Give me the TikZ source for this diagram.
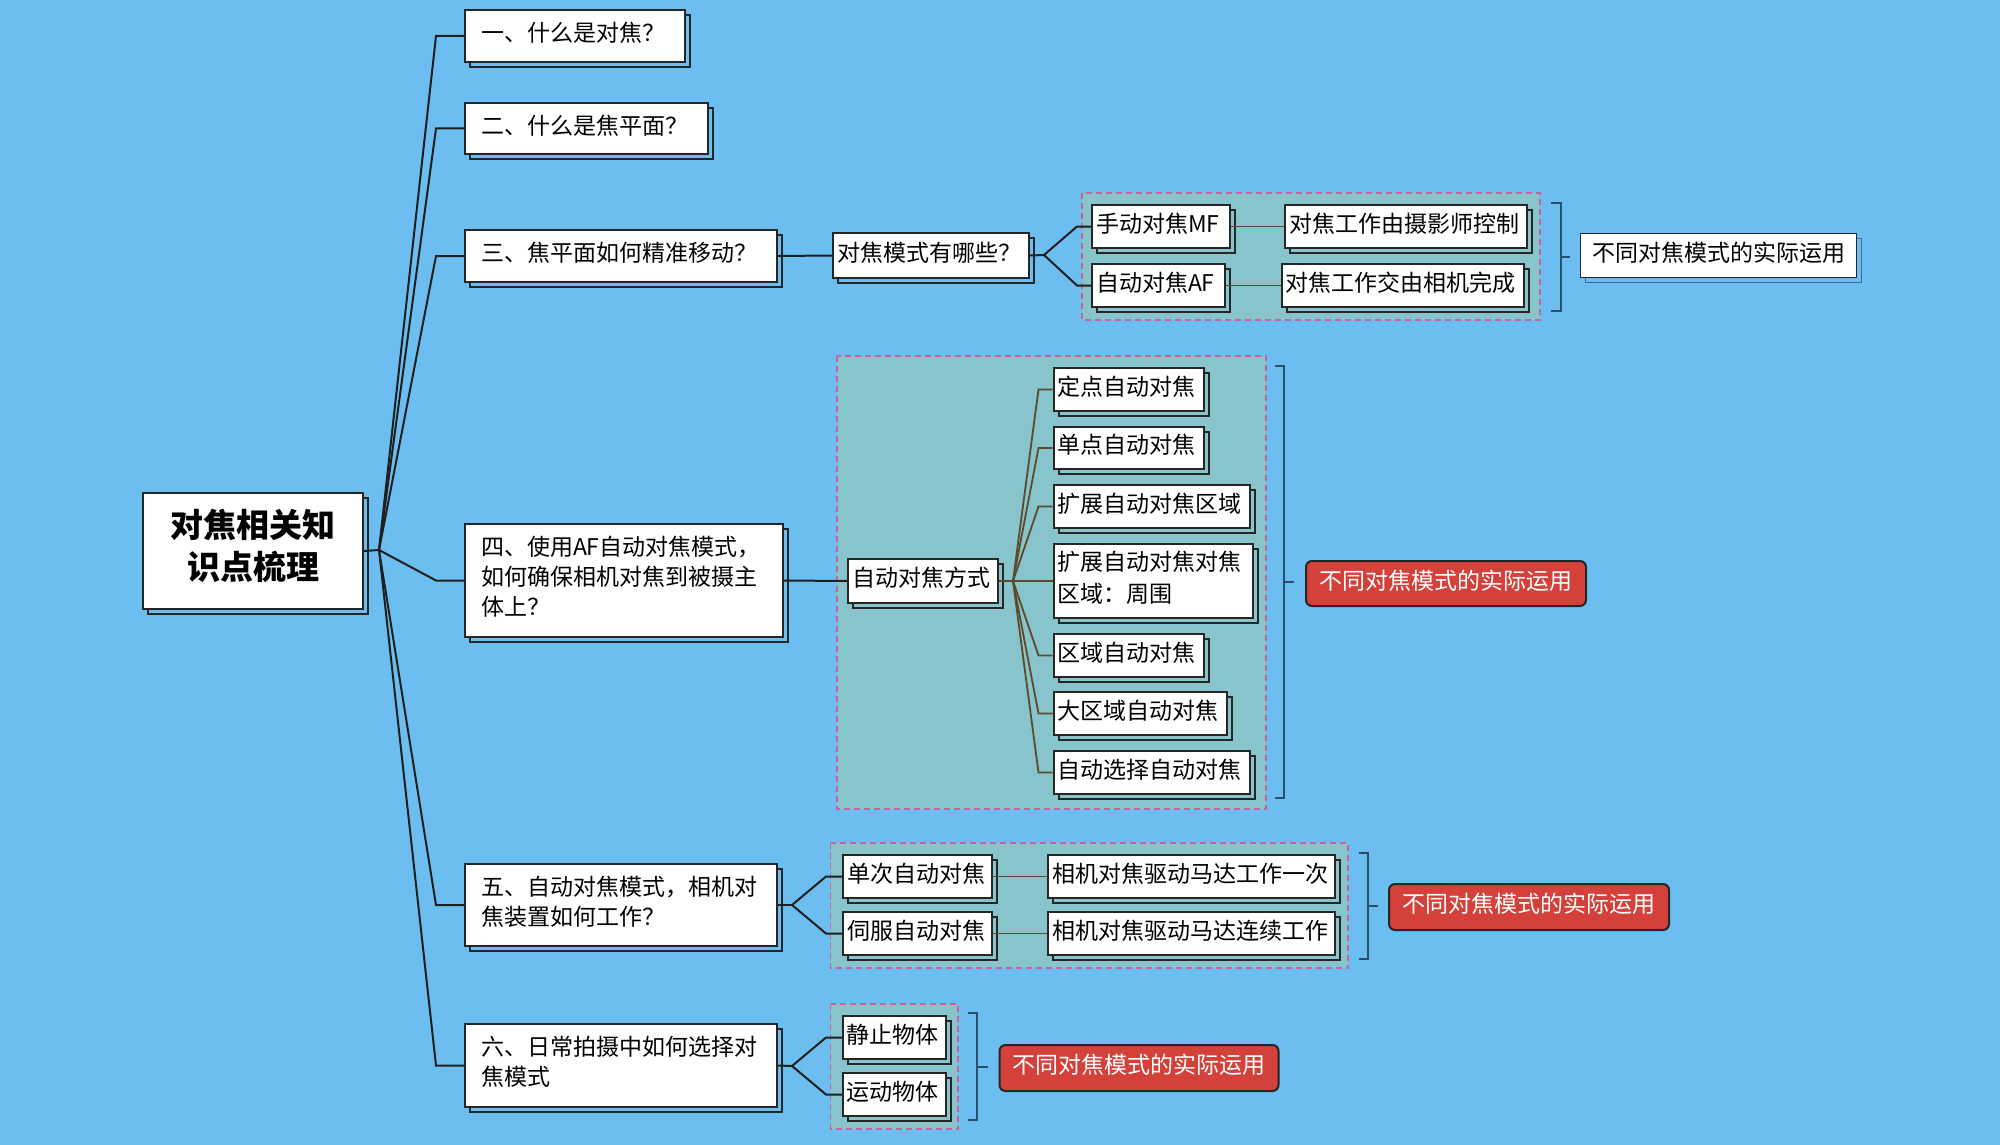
\documentclass[tikz,border=0pt]{standalone}
\usepackage{fontspec}
\setmainfont{Noto Sans CJK SC}
\usetikzlibrary{calc}
\definecolor{bgc}{HTML}{6DBEF0}
\definecolor{grpfill}{HTML}{88C4CC}
\definecolor{grpdash}{HTML}{C9649A}
\definecolor{boxc}{HTML}{262626}
\definecolor{connc}{HTML}{1F1F1F}
\definecolor{olivec}{HTML}{5B4B2B}
\definecolor{brkc}{HTML}{2C4D6C}
\definecolor{redc}{HTML}{D4403A}
\definecolor{lshc}{HTML}{3C6C9C}
\newcommand\mmbox[8][]{%
  \pgfmathsetmacro\mmtw{#5-2*#7+4}%
  \pgfmathsetmacro\mmix{#7-2}%
  \node[#1, minimum width=#5pt, minimum height=#6pt, inner xsep=\mmix pt, text width=\mmtw pt] (#2) at (#3,#4) {#8};}
\newcommand\lastdp{\rule[-9pt]{0pt}{9pt}}
\begin{document}
\begin{tikzpicture}[x=1pt,y=-1pt,
  bxm/.style={draw=boxc, line width=2pt, fill=white, anchor=north west, align=left,
    inner ysep=0pt, font=\fontsize{23}{30}\selectfont,
    preaction={draw=boxc, line width=2pt, transform canvas={xshift=5pt,yshift=-5pt}}},
  bx/.style={bxm, text depth=8pt},
  lbx/.style={draw=boxc, line width=1pt, fill=white, anchor=north west, align=center,
    inner ysep=0pt, text depth=8pt, font=\fontsize{23}{30}\selectfont,
    preaction={draw=lshc, line width=1.5pt, transform canvas={xshift=5pt,yshift=-5pt}}},
  rbx/.style={draw=boxc, line width=2pt, fill=redc, rounded corners=6pt, anchor=north west,
    align=center, text=white, inner ysep=0pt, text depth=8pt, font=\fontsize{23}{30}\selectfont},
  grp/.style={draw=grpdash, fill=grpfill, line width=1.5pt, dash pattern=on 6pt off 4pt},
  conn/.style={draw=connc, line width=2pt},
  oconn/.style={draw=olivec, line width=1.8pt},
  brk/.style={draw=brkc, line width=1.8pt}]
\fill[bgc] (0,0) rectangle (2000,1145);
\useasboundingbox (0,0) rectangle (2000,1145);
% groups
\draw[grp] (1082,193) rectangle (1540,320);
\draw[grp] (837,356) rectangle (1266,809);
\draw[grp] (830.5,843) rectangle (1348,968);
\draw[grp] (830.5,1004) rectangle (958,1129);
% root
\node[bxm, align=center, minimum width=220pt, minimum height=116pt, text width=200pt,
  inner xsep=10pt, font=\fontsize{33}{42}\selectfont\bfseries] (root) at (142,492) {对焦相关知\\识点梳理\rule[-14pt]{0pt}{14pt}};
% level 1
\mmbox[bx]{n1}{464}{9}{220}{52}{18}{一、什么是对焦？}
\mmbox[bx]{n2}{464}{102}{243}{51}{18}{二、什么是焦平面？}
\mmbox[bx]{n3}{464}{229}{312}{52}{18}{三、焦平面如何精准移动？}
\mmbox[bxm]{n4}{464}{523}{318}{113}{18}{四、使用AF自动对焦模式，\\如何确保相机对焦到被摄主\\体上？\lastdp}
\mmbox[bxm]{n5}{464}{863}{312}{82}{18}{五、自动对焦模式，相机对\\焦装置如何工作？\lastdp}
\mmbox[bxm]{n6}{464}{1023}{312}{83}{18}{六、日常拍摄中如何选择对\\焦模式\lastdp}
% branch 3
\mmbox[bx]{m}{832}{232}{196}{45}{6}{对焦模式有哪些？}
\mmbox[bx]{mf}{1091}{204}{138}{43}{6}{手动对焦MF}
\mmbox[bx]{af}{1091}{263}{133}{43}{6}{自动对焦AF}
\mmbox[bx]{mfd}{1284}{204}{242}{43}{6}{对焦工作由摄影师控制}
\mmbox[bx]{afd}{1280.5}{263}{242}{43}{6}{对焦工作交由相机完成}
\mmbox[lbx]{use1}{1580}{233}{276}{44}{11}{不同对焦模式的实际运用}
% branch 4
\mmbox[bx]{afm}{847}{558}{150}{44}{6}{自动对焦方式}
\mmbox[bx]{c1}{1052.5}{367}{150}{43}{6}{定点自动对焦}
\mmbox[bx]{c2}{1052.5}{426}{150}{42}{6}{单点自动对焦}
\mmbox[bx]{c3}{1052.5}{484}{196}{43}{6}{扩展自动对焦区域}
\mmbox[bxm]{c4}{1052.5}{543}{199}{74}{6}{扩展自动对焦对焦\\[2pt]区域：周围\lastdp}
\mmbox[bx]{c5}{1052.5}{633}{150}{43}{6}{区域自动对焦}
\mmbox[bx]{c6}{1052.5}{691}{173}{43}{6}{大区域自动对焦}
\mmbox[bx]{c7}{1052.5}{750}{196}{43}{6}{自动选择自动对焦}
\mmbox[rbx]{red1}{1305}{560}{280}{45}{12}{不同对焦模式的实际运用}
% branch 5
\mmbox[bx]{s1}{842}{854}{149}{43}{6}{单次自动对焦}
\mmbox[bx]{s2}{842}{911}{149}{43}{6}{伺服自动对焦}
\mmbox[bx]{s1d}{1047}{854}{287}{43}{6}{相机对焦驱动马达工作一次}
\mmbox[bx]{s2d}{1047}{911}{287}{43}{6}{相机对焦驱动马达连续工作}
\mmbox[rbx]{red2}{1388}{883}{280}{46}{12}{不同对焦模式的实际运用}
% branch 6
\mmbox[bx]{t1}{842}{1015}{103}{43}{5}{静止物体}
\mmbox[bx]{t2}{842}{1072}{103}{43}{5}{运动物体}
\mmbox[rbx]{red3}{998.5}{1044}{279}{46}{12}{不同对焦模式的实际运用}
% fork coordinates
\coordinate (rf) at (379,550);
\coordinate (mfork) at (1044,255);
\coordinate (afork) at (1013,581);
\coordinate (s5fork) at (792,905);
\coordinate (s6fork) at (792,1066);
% root connectors
\draw[conn] (root.east) -- (rf);
\foreach \c in {n1,n2,n3,n4,n5,n6}{
  \draw[conn] (rf) -- ([xshift=-28pt]\c.west) -- (\c.west);
}
% branch 3 connectors
\draw[conn] (n3.east) -- (m.west);
\draw[conn] (m.east) -- (mfork);
\draw[conn] (mfork) -- ([xshift=-14pt]mf.west) -- (mf.west);
\draw[conn] (mfork) -- ([xshift=-14pt]af.west) -- (af.west);
\draw[oconn] (mf.east) -- (mfd.west);
\draw[oconn] (af.east) -- (afd.west);
% branch 4 connectors
\draw[conn] (n4.east) -- (afm.west);
\draw[oconn] (afm.east) -- (afork);
\foreach \c in {c1,c2,c3,c4,c5,c6,c7}{
  \draw[oconn] (afork) -- ([xshift=-14pt]\c.west) -- (\c.west);
}
% branch 5 connectors
\draw[conn] (n5.east) -- (s5fork);
\draw[conn] (s5fork) -- ([xshift=-16pt]s1.west) -- (s1.west);
\draw[conn] (s5fork) -- ([xshift=-16pt]s2.west) -- (s2.west);
\draw[oconn] (s1.east) -- (s1d.west);
\draw[oconn] (s2.east) -- (s2d.west);
% branch 6 connectors
\draw[conn] (n6.east) -- (s6fork);
\draw[conn] (s6fork) -- ([xshift=-16pt]t1.west) -- (t1.west);
\draw[conn] (s6fork) -- ([xshift=-16pt]t2.west) -- (t2.west);
% brackets
\coordinate (b1a) at (1551,203); \coordinate (b1b) at (1561,311); \coordinate (b1t) at (1570,257);
\draw[brk] (b1a) -- (b1a -| b1b) -- (b1b) -- (b1b -| b1a);
\draw[brk] (b1t -| b1b) -- (b1t);
\coordinate (b2a) at (1274.5,366); \coordinate (b2b) at (1284,798); \coordinate (b2t) at (1294,582);
\draw[brk] (b2a) -- (b2a -| b2b) -- (b2b) -- (b2b -| b2a);
\draw[brk] (b2t -| b2b) -- (b2t);
\coordinate (b3a) at (1358.5,853); \coordinate (b3b) at (1368,959); \coordinate (b3t) at (1378,906);
\draw[brk] (b3a) -- (b3a -| b3b) -- (b3b) -- (b3b -| b3a);
\draw[brk] (b3t -| b3b) -- (b3t);
\coordinate (b4a) at (968,1013); \coordinate (b4b) at (977,1120); \coordinate (b4t) at (988,1067);
\draw[brk] (b4a) -- (b4a -| b4b) -- (b4b) -- (b4b -| b4a);
\draw[brk] (b4t -| b4b) -- (b4t);
\end{tikzpicture}
\end{document}
